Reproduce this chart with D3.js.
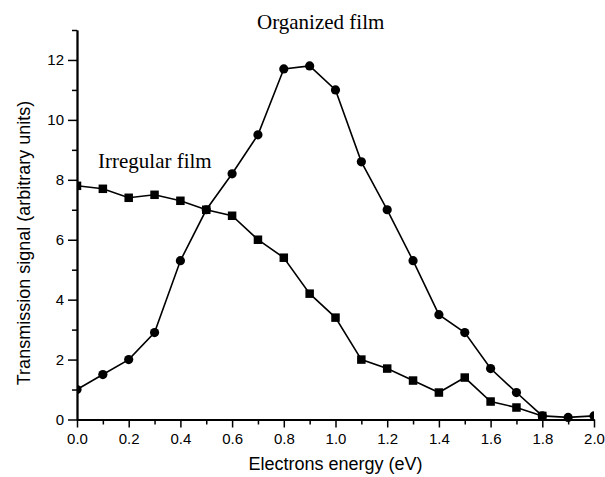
<!DOCTYPE html>
<html>
<head>
<meta charset="utf-8">
<script src="https://cdn.jsdelivr.net/npm/d3@7/dist/d3.min.js"></script>
<style>
  html, body { margin: 0; padding: 0; background: #fff; }
  svg { display: block; }
  .tick text { font-family: "Liberation Sans", Arial, sans-serif; font-size: 15px; fill: #000; }
</style>
</head>
<body>
<svg id="chart" width="605" height="477"></svg>
<script>
// Electron energy (eV) at which the transmission signal was sampled
const energy = [0.0, 0.1, 0.2, 0.3, 0.4, 0.5, 0.6, 0.7, 0.8, 0.9, 1.0,
                1.1, 1.2, 1.3, 1.4, 1.5, 1.6, 1.7, 1.8, 1.9, 2.0];
// Organized film (circles)
const organized = [1.0, 1.5, 2.0, 2.9, 5.3, 7.0, 8.2, 9.5, 11.7, 11.8, 11.0,
                   8.6, 7.0, 5.3, 3.5, 2.9, 1.7, 0.9, 0.12, 0.07, 0.12];
// Irregular film (squares)
const irregular = [7.8, 7.7, 7.4, 7.5, 7.3, 7.0, 6.8, 6.0, 5.4, 4.2, 3.4,
                   2.0, 1.7, 1.3, 0.9, 1.4, 0.6, 0.4, 0.12];
const xMajorTicks = [0.0, 0.2, 0.4, 0.6, 0.8, 1.0, 1.2, 1.4, 1.6, 1.8, 2.0];
const xMinorTicks = [0.1, 0.3, 0.5, 0.7, 0.9, 1.1, 1.3, 1.5, 1.7, 1.9];
const yMajorTicks = [0, 2, 4, 6, 8, 10, 12];
const yMinorTicks = [1, 3, 5, 7, 9, 11, 13];

const svg = d3.select("#chart");
const plotLeft = 77, plotRight = 594, plotTop = 30, plotBottom = 419.5;

const x = d3.scaleLinear().domain([0, 2]).range([plotLeft, plotRight]);
const y = d3.scaleLinear().domain([0, 13]).range([plotBottom, plotTop]);

svg.append("defs").append("clipPath").attr("id", "plotClip")
  .append("rect")
  .attr("x", plotLeft).attr("y", plotTop - 10)
  .attr("width", plotRight - plotLeft).attr("height", plotBottom - plotTop + 20);

// Axes: major ticks with labels, minor ticks without
const styleAxis = g => {
  g.select(".domain").attr("stroke", "#000").attr("stroke-width", 1.8);
  g.selectAll(".tick line").attr("stroke", "#000").attr("stroke-width", 1.5);
};

svg.append("g").attr("transform", `translate(0,${plotBottom})`)
  .call(d3.axisBottom(x).tickValues(xMinorTicks).tickSize(5).tickFormat("").tickSizeOuter(0))
  .call(styleAxis);
svg.append("g").attr("transform", `translate(0,${plotBottom})`)
  .call(d3.axisBottom(x).tickValues(xMajorTicks).tickSize(8).tickPadding(6)
        .tickFormat(d3.format(".1f")).tickSizeOuter(0))
  .call(styleAxis);

svg.append("g").attr("transform", `translate(${plotLeft},0)`)
  .call(d3.axisLeft(y).tickValues(yMinorTicks).tickSize(5).tickFormat("").tickSizeOuter(0))
  .call(styleAxis);
svg.append("g").attr("transform", `translate(${plotLeft},0)`)
  .call(d3.axisLeft(y).tickValues(yMajorTicks).tickSize(9).tickPadding(4)
        .tickFormat(d3.format("d")).tickSizeOuter(0))
  .call(styleAxis);

// Series
const plot = svg.append("g").attr("clip-path", "url(#plotClip)");
const line = d3.line().x(d => x(d[0])).y(d => y(d[1]));

const orgPts = energy.map((e, i) => [e, organized[i]]);
const irrPts = irregular.map((v, i) => [energy[i], v]);

plot.append("path").datum(irrPts).attr("d", line)
  .attr("fill", "none").attr("stroke", "#000").attr("stroke-width", 1.6);
plot.append("path").datum(orgPts).attr("d", line)
  .attr("fill", "none").attr("stroke", "#000").attr("stroke-width", 1.6);

const sq = 8.5;
plot.selectAll("rect.irr").data(irrPts).join("rect")
  .attr("class", "irr")
  .attr("x", d => x(d[0]) - sq / 2).attr("y", d => y(d[1]) - sq / 2)
  .attr("width", sq).attr("height", sq).attr("fill", "#000");

plot.selectAll("circle.org").data(orgPts).join("circle")
  .attr("class", "org")
  .attr("cx", d => x(d[0])).attr("cy", d => y(d[1]))
  .attr("r", 4.6).attr("fill", "#000");

// Annotations
svg.append("text").attr("x", 257).attr("y", 29)
  .attr("font-family", "'Liberation Serif', 'Times New Roman', serif")
  .attr("font-size", 21).attr("fill", "#000").text("Organized film");
svg.append("text").attr("x", 98).attr("y", 168)
  .attr("font-family", "'Liberation Serif', 'Times New Roman', serif")
  .attr("font-size", 21).attr("fill", "#000").text("Irregular film");

// Axis titles
svg.append("text").attr("x", (plotLeft + plotRight) / 2).attr("y", 470)
  .attr("text-anchor", "middle")
  .attr("font-family", "'Liberation Sans', Arial, sans-serif")
  .attr("font-size", 18).attr("fill", "#000").text("Electrons energy (eV)");
svg.append("text")
  .attr("transform", "translate(30,243) rotate(-90)")
  .attr("text-anchor", "middle")
  .attr("font-family", "'Liberation Sans', Arial, sans-serif")
  .attr("font-size", 18).attr("fill", "#000").text("Transmission signal (arbitrary units)");
</script>
</body>
</html>
